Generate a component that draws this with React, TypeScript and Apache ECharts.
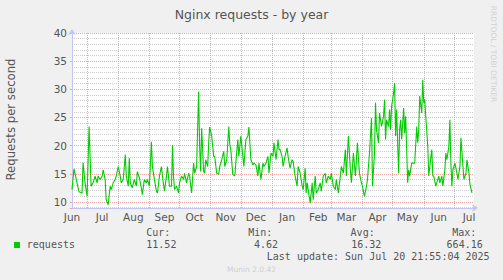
import React, { useEffect, useRef } from 'react';
import * as echarts from 'echarts';

// Time span of the year graph: one category per day
const START_DATE = '2024-06-16';
const DAY_COUNT = 401;
const MONTH_NAMES = ['Jan', 'Feb', 'Mar', 'Apr', 'May', 'Jun', 'Jul', 'Aug', 'Sep', 'Oct', 'Nov', 'Dec'];

// Day offsets (from START_DATE) of the read samples
const sampleDays = [
  0, 2, 5, 7, 10, 11, 13, 15, 17, 19,
  21, 23, 25, 26, 28, 30, 31, 33, 34, 36,
  38, 39, 41, 43, 44, 46, 48, 49, 51, 53,
  54, 56, 57, 58, 60, 62, 64, 65, 67, 69,
  70, 72, 74, 75, 77, 79, 80, 82, 84, 85,
  87, 89, 90, 92, 94, 95, 97, 99, 100, 101,
  102, 104, 106, 107, 109, 111, 112, 114, 116, 117,
  119, 121, 122, 124, 126, 127, 128, 129, 131, 132,
  133, 135, 136, 137, 139, 141, 142, 144, 146, 147,
  149, 151, 152, 154, 156, 157, 158, 160, 162, 163,
  165, 166, 168, 170, 171, 173, 175, 176, 178, 180,
  181, 183, 185, 186, 188, 190, 191, 193, 195, 196,
  198, 200, 201, 203, 205, 206,
  207, 209, 210, 212, 214, 215, 217, 219, 220, 222,
  224, 225, 227, 229, 230, 232, 233, 234, 236, 237,
  239, 240, 242, 243, 245, 247, 248, 250, 252, 253,
  255, 257, 258, 260, 262, 263, 265, 267, 268, 270,
  272, 273, 275, 277, 278, 280, 282, 283, 284, 286,
  288, 289, 291, 293, 294, 296, 298, 299, 301, 302,
  303, 305, 306, 308, 310, 311, 312, 313, 315, 316,
  317, 318, 320, 321, 322, 323, 325, 326, 327, 328,
  330, 331, 332, 334, 335, 336, 338, 340, 341, 343,
  344, 345, 346, 348, 349, 350, 351, 352, 354, 355,
  356, 358, 359, 360, 362, 364, 365, 366, 368, 369,
  371, 372, 373, 375, 376, 377, 378, 379, 381, 383,
  384, 386, 387, 389, 390, 392, 393, 395, 396, 398,
];

// Requests per second at those days
const requestValues = [
  12.2, 15.9, 13.4, 11.8, 11.6, 17.0, 13.4, 11.0, 23.4, 12.8,
  13.4, 14.6, 13.4, 14.6, 14.0, 14.6, 15.7, 14.0, 10.4, 9.5,
  12.8, 12.2, 13.4, 14.0, 14.6, 16.3, 14.6, 13.4, 14.0, 18.4,
  14.6, 12.8, 17.8, 13.4, 12.5, 14.0, 12.8, 15.4, 14.3, 12.5,
  11.3, 14.0, 13.4, 14.0, 12.8, 20.7, 16.3, 14.0, 11.9, 11.6,
  14.6, 16.3, 14.6, 11.9, 14.6, 16.3, 12.8, 12.8, 20.1, 14.6,
  12.2, 12.8, 11.6, 13.4, 14.6, 14.0, 15.1, 13.4, 15.1, 14.6,
  11.6, 16.9, 15.1, 16.3, 29.6, 19.9, 15.4, 23.1, 15.4, 15.1,
  17.5, 16.3, 20.5, 23.3, 21.7, 18.1, 18.1, 15.1, 14.9, 16.3,
  17.5, 19.0, 16.3, 17.5, 23.4, 20.2, 19.3, 14.9, 14.6, 16.9,
  21.1, 18.1, 21.7, 18.1, 16.3, 21.1, 21.7, 23.3, 17.5, 16.6,
  16.9, 16.6, 14.6, 16.9, 14.0, 16.9, 16.3, 16.9, 18.1, 15.1,
  18.7, 18.1, 20.5, 17.5, 21.1, 19.3,
  19.3, 18.1, 16.3, 18.1, 19.6, 18.1, 16.0, 17.5, 17.2, 14.6,
  12.8, 16.3, 15.1, 12.8, 12.2, 16.0, 11.6, 13.4, 11.0, 9.8,
  13.4, 10.4, 14.6, 11.6, 12.2, 13.4, 11.9, 14.6, 15.1, 13.4,
  14.6, 14.0, 15.1, 12.8, 12.2, 14.0, 11.6, 14.6, 16.3, 15.1,
  19.3, 14.6, 21.7, 15.7, 13.4, 18.7, 14.6, 17.5, 20.5, 15.1,
  13.4, 12.8, 11.0, 12.8, 14.0, 18.7, 24.9, 12.8, 18.7, 27.6,
  22.8, 20.5, 25.8, 23.4, 25.2, 28.2, 21.1, 24.6, 23.4, 26.4,
  22.8, 27.0, 29.3, 31.1, 21.7, 26.4, 15.1, 22.8, 24.6, 21.1,
  26.7, 22.2, 25.2, 13.4, 15.7, 14.6, 16.9, 16.9, 16.9, 23.4,
  20.5, 22.8, 28.8, 25.8, 31.7, 27.6, 28.2, 25.2, 19.9, 14.6,
  16.3, 19.3, 14.6, 14.6, 12.8, 14.0, 14.6, 13.4, 14.6, 12.8,
  15.7, 18.7, 17.5, 19.9, 24.6, 16.9, 12.8, 15.7, 16.9, 15.1,
  14.0, 16.3, 21.4, 16.3, 14.0, 15.1, 17.5, 15.1, 13.1, 11.6,
];

const Y_MIN = 8.93;
const Y_MAX = 40;

const statLabels = ['Cur:', 'Min:', 'Avg:', 'Max:'];
const statValues = ['11.52', '4.62', '16.32', '664.16'];
const LAST_UPDATE = 'Last update: Sun Jul 20 21:55:04 2025';

function buildCategories(): string[] {
  const out: string[] = [];
  const base = new Date(START_DATE + 'T00:00:00Z').getTime();
  for (let i = 0; i < DAY_COUNT; i++) {
    out.push(new Date(base + i * 86400000).toISOString().slice(0, 10));
  }
  return out;
}

const MAJOR_GRID = '#f2a2a2';
const MINOR_GRID = '#cdcdcd';
const AXIS_COLOR = '#c4c4f2';
const TEXT_COLOR = '#555555';

export default function App() {
  const ref = useRef<HTMLDivElement>(null);

  useEffect(() => {
    if (!ref.current) return;
    const chart = echarts.init(ref.current, undefined, { renderer: 'svg' });
    const categories = buildCategories();
    const data = sampleDays.map((d, i) => [categories[d], requestValues[i]]);

    const mono = 'DejaVu Sans Mono';
    const statX = [146.3, 248.3, 350.6, 452.3];
    const valueX = [146.3, 254.0, 351.2, 446.6];

    const graphic: any[] = [
      {
        type: 'text', x: 251.5, y: 14,
        style: { text: 'Nginx requests - by year', fill: TEXT_COLOR, fontSize: 12.5, fontFamily: 'DejaVu Sans', align: 'center', verticalAlign: 'middle' },
      },
      {
        type: 'text', x: 11, y: 119.5, rotation: Math.PI / 2,
        style: { text: 'Requests per second', fill: TEXT_COLOR, fontSize: 11.7, fontFamily: 'DejaVu Sans', align: 'center', verticalAlign: 'middle' },
      },
      {
        type: 'text', x: 493, y: 54, rotation: -Math.PI / 2,
        style: { text: 'RRDTOOL / TOBI OETIKER', fill: '#d2d2d2', fontSize: 7.5, fontFamily: 'DejaVu Sans', align: 'center', verticalAlign: 'middle' },
      },
      {
        type: 'rect', shape: { x: 14, y: 242, width: 6, height: 6 },
        style: { fill: '#00cc00' },
      },
      {
        type: 'text', x: 26.8, y: 244.5,
        style: { text: 'requests', fill: TEXT_COLOR, fontSize: 10, fontFamily: mono, align: 'left', verticalAlign: 'middle' },
      },
      {
        type: 'text', x: 266.8, y: 256.3,
        style: { text: LAST_UPDATE, fill: TEXT_COLOR, fontSize: 10, fontFamily: mono, align: 'left', verticalAlign: 'middle' },
      },
      {
        type: 'text', x: 251.5, y: 269.5,
        style: { text: 'Munin 2.0.42', fill: '#cfcfcf', fontSize: 7.5, fontFamily: 'DejaVu Sans', align: 'center', verticalAlign: 'middle' },
      },
    ];
    statLabels.forEach((t, i) => {
      graphic.push({
        type: 'text', x: statX[i], y: 232.5,
        style: { text: t, fill: TEXT_COLOR, fontSize: 10, fontFamily: mono, align: 'left', verticalAlign: 'middle' },
      });
      graphic.push({
        type: 'text', x: valueX[i], y: 244.5,
        style: { text: statValues[i], fill: TEXT_COLOR, fontSize: 10, fontFamily: mono, align: 'left', verticalAlign: 'middle' },
      });
    });

    const option: any = {
      animation: false,
      backgroundColor: '#f0f0f0',
      grid: { left: 72, right: 29, top: 33, bottom: 72, show: true, backgroundColor: '#ffffff', borderWidth: 0 },
      xAxis: {
        type: 'category',
        data: categories,
        boundaryGap: false,
        z: 1,
        axisLine: {
          show: true, onZero: false,
          lineStyle: { color: AXIS_COLOR, width: 1 },
          symbol: ['none', 'arrow'], symbolSize: [6, 6], symbolOffset: [0, 4],
        },
        axisTick: { show: false },
        axisLabel: {
          interval: (_i: number, v: string) => v.slice(8) === '16',
          formatter: (v: string) => MONTH_NAMES[parseInt(v.slice(5, 7), 10) - 1],
          color: TEXT_COLOR, fontSize: 10.5, fontFamily: 'DejaVu Sans', margin: 3,
        },
        splitLine: {
          show: true,
          interval: (_i: number, v: string) => v.slice(8) === '01',
          lineStyle: { color: MAJOR_GRID, type: [1, 1], width: 1 },
        },
      },
      yAxis: [
        {
          type: 'value', min: Y_MIN, max: Y_MAX, splitNumber: 6, minInterval: 5, maxInterval: 5,
          position: 'left', z: 1,
          axisLine: {
            show: true, lineStyle: { color: AXIS_COLOR, width: 1 },
            symbol: ['none', 'arrow'], symbolSize: [6, 6], symbolOffset: [0, 4],
          },
          axisTick: { show: true, length: 2, lineStyle: { color: MAJOR_GRID } },
          axisLabel: {
            formatter: (v: number) => (Math.abs(v % 5) < 1e-6 ? String(v) : ''),
            color: TEXT_COLOR, fontSize: 10.5, fontFamily: 'DejaVu Sans', margin: 5,
          },
          splitLine: { show: true, lineStyle: { color: MAJOR_GRID, type: [1, 1], width: 1 } },
        },
        {
          type: 'value', min: Y_MIN, max: Y_MAX, splitNumber: 31, minInterval: 1, maxInterval: 1,
          position: 'left', z: 0,
          axisLine: { show: false },
          axisTick: { show: false },
          axisLabel: { show: false },
          splitLine: { show: true, lineStyle: { color: MINOR_GRID, type: [1, 1], width: 1 } },
        },
      ],
      series: [
        {
          type: 'line',
          data,
          yAxisIndex: 0,
          showSymbol: false,
          symbol: 'none',
          z: 5,
          lineStyle: { color: '#00cc00', width: 1.1 },
        },
      ],
      graphic,
    };
    chart.setOption(option);
    return () => chart.dispose();
  }, []);

  return (
    <div
      ref={ref}
      style={{ position: 'absolute', left: 0, top: 0, width: 503, height: 280 }}
    />
  );
}
